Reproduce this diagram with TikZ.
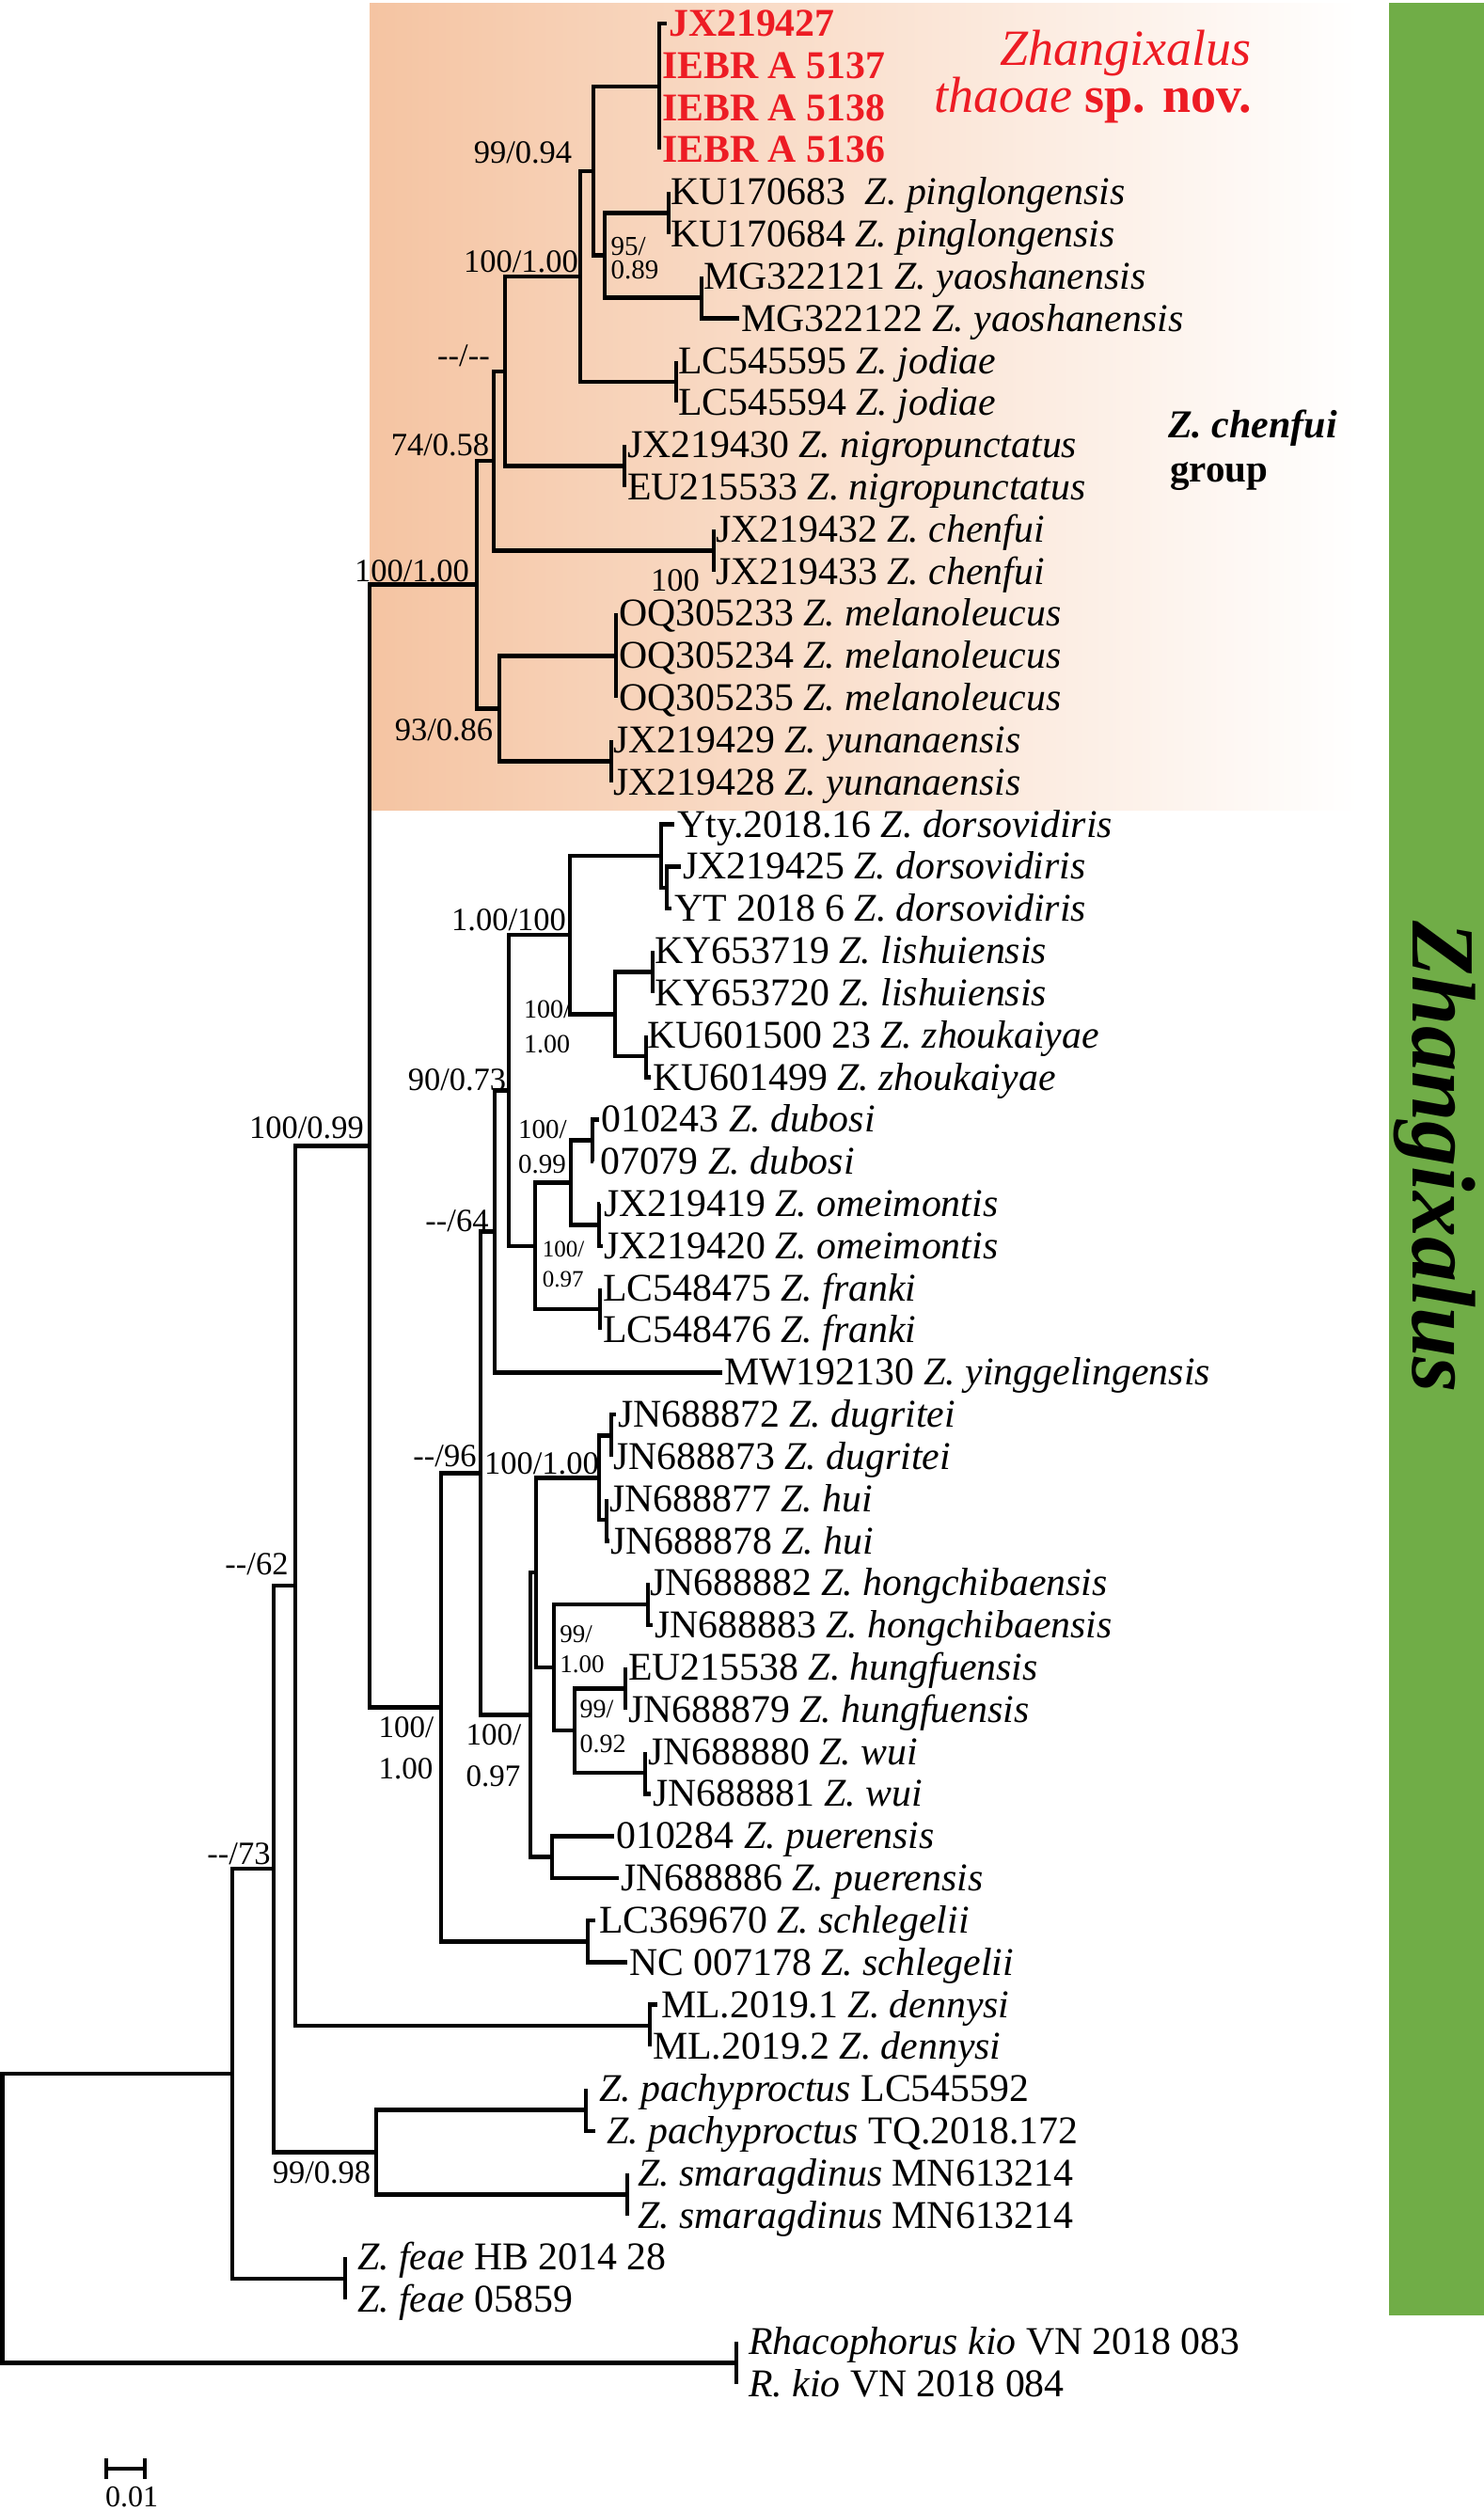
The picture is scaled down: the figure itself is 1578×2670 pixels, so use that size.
\documentclass[tikz,border=0pt]{standalone}
\usepackage{fontspec}
\setmainfont{Liberation Serif}
\definecolor{peach}{RGB}{245,196,162}
\definecolor{zgreen}{RGB}{112,173,71}
\definecolor{zred}{RGB}{237,28,36}
\newcommand\fTip{\fontsize{41.8}{46}\selectfont}
\newcommand\fSup{\fontsize{34.5}{40}\selectfont}
\newcommand\tipl[4]{%
  \coordinate (t#1) at (#2,{rowy(#1)});
  \node[tip] (n#1) at (#3,{rowy(#1)}) {#4};}
\begin{document}
\begin{tikzpicture}[x=1pt,y=-1pt,
  declare function={rowy(\r)=25+44.82*(\r-1);},
  br/.style={line width=4.5pt},
  tip/.style={anchor=base west, inner sep=0pt, yshift=-13.5pt, font=\fTip},
  sup/.style={inner sep=0pt, font=\fSup},
  suptwo/.style={inner sep=0pt, align=left}]
\useasboundingbox (0,0) rectangle (1578,2670);
% backgrounds
\shade[left color=peach, right color=white] (393,4) rectangle (1445,861);
\fill[zgreen] (1477,3) rectangle (1578,2462);
% internal nodes
\coordinate (A) at (701,{rowy(2.5)});
\coordinate (Ppl) at (711,{rowy(5.5)});
\coordinate (Yo) at (746,{rowy(7.5)});
\coordinate (C) at (643,{rowy(6.5)});
\coordinate (P1) at (631,{rowy(4.5)});
\coordinate (J) at (719,{rowy(9.5)});
\coordinate (P2) at (617,{rowy(7)});
\coordinate (Ng) at (664,{rowy(11.5)});
\coordinate (P4) at (537,{rowy(9.25)});
\coordinate (Ch) at (759,{rowy(13.5)});
\coordinate (P5) at (525,{rowy(11.375)});
\coordinate (M) at (655,{rowy(16)});
\coordinate (Yu) at (650,{rowy(18.5)});
\coordinate (P7) at (531,{rowy(17.25)});
\coordinate (P6) at (507,{rowy(14.3125)});
\coordinate (D2) at (709,{rowy(21.5)});
\coordinate (D1) at (703,{rowy(20.75)});
\coordinate (L1) at (694,{rowy(23.5)});
\coordinate (L2) at (687,{rowy(25.5)});
\coordinate (L0) at (654,{rowy(24.5)});
\coordinate (T1) at (606,{rowy(22.625)});
\coordinate (Du) at (630,{rowy(27.5)});
\coordinate (Om) at (637,{rowy(29.5)});
\coordinate (V1) at (607,{rowy(28.5)});
\coordinate (Fr) at (638,{rowy(31.5)});
\coordinate (U1) at (569,{rowy(30)});
\coordinate (R2) at (541,{rowy(26.3125)});
\coordinate (R1) at (526,{rowy(29.656)});
\coordinate (Dg) at (650,{rowy(34.5)});
\coordinate (Hu) at (645,{rowy(36.5)});
\coordinate (G0) at (637,{rowy(35.5)});
\coordinate (Hc) at (689,{rowy(38.5)});
\coordinate (Hf) at (665,{rowy(40.5)});
\coordinate (W) at (686,{rowy(42.5)});
\coordinate (H2) at (611,{rowy(41.5)});
\coordinate (H1) at (589,{rowy(40)});
\coordinate (S2) at (570,{rowy(37.75)});
\coordinate (Pu) at (587,{rowy(44.5)});
\coordinate (S1) at (564,{rowy(41.125)});
\coordinate (Q3) at (511,{rowy(35.39)});
\coordinate (Sc) at (625,{rowy(46.5)});
\coordinate (Q2) at (469,{rowy(40.945)});
\coordinate (NC) at (393,{rowy(27.629)});
\coordinate (De) at (691,{rowy(48.5)});
\coordinate (NB) at (314,{rowy(38.06)});
\coordinate (Pa) at (623,{rowy(50.5)});
\coordinate (Sm) at (667,{rowy(52.5)});
\coordinate (PS) at (400,{rowy(51.5)});
\coordinate (NA) at (291,{rowy(44.78)});
\coordinate (Fe) at (367,{rowy(54.5)});
\coordinate (Nin) at (247,{rowy(49.64)});
\coordinate (Rh) at (783,{rowy(56.5)});
\coordinate (root) at (2.5,{rowy(53.07)});
% tips
\tipl{1}{709}{711}{\textcolor{zred}{\bfseries JX219427}}
\tipl{2}{701}{704}{\textcolor{zred}{\bfseries IEBR A 5137}}
\tipl{3}{701}{704}{\textcolor{zred}{\bfseries IEBR A 5138}}
\tipl{4}{701}{704}{\textcolor{zred}{\bfseries IEBR A 5136}}
\tipl{5}{711}{713}{KU170683\ \ \textit{Z. pinglongensis}}
\tipl{6}{711}{713}{KU170684 \textit{Z. pinglongensis}}
\tipl{7}{746}{748}{MG322121 \textit{Z. yaoshanensis}}
\tipl{8}{786}{788}{MG322122 \textit{Z. yaoshanensis}}
\tipl{9}{719}{721}{LC545595 \textit{Z. jodiae}}
\tipl{10}{719}{721}{LC545594 \textit{Z. jodiae}}
\tipl{11}{664}{667}{JX219430 \textit{Z. nigropunctatus}}
\tipl{12}{664}{667}{EU215533 \textit{Z. nigropunctatus}}
\tipl{13}{759}{761}{JX219432 \textit{Z. chenfui}}
\tipl{14}{759}{761}{JX219433 \textit{Z. chenfui}}
\tipl{15}{655}{658}{OQ305233 \textit{Z. melanoleucus}}
\tipl{16}{655}{658}{OQ305234 \textit{Z. melanoleucus}}
\tipl{17}{655}{658}{OQ305235 \textit{Z. melanoleucus}}
\tipl{18}{650}{652}{JX219429 \textit{Z. yunanaensis}}
\tipl{19}{650}{652}{JX219428 \textit{Z. yunanaensis}}
\tipl{20}{717}{720}{Yty.2018.16 \textit{Z. dorsovidiris}}
\tipl{21}{724}{726}{JX219425 \textit{Z. dorsovidiris}}
\tipl{22}{714}{717}{YT 2018 6 \textit{Z. dorsovidiris}}
\tipl{23}{694}{696}{KY653719 \textit{Z. lishuiensis}}
\tipl{24}{694}{696}{KY653720 \textit{Z. lishuiensis}}
\tipl{25}{687}{688}{KU601500 23 \textit{Z. zhoukaiyae}}
\tipl{26}{692}{694}{KU601499 \textit{Z. zhoukaiyae}}
\tipl{27}{637}{639}{010243 \textit{Z. dubosi}}
\tipl{28}{631}{638}{07079 \textit{Z. dubosi}}
\tipl{29}{638}{642}{JX219419 \textit{Z. omeimontis}}
\tipl{30}{641}{642}{JX219420 \textit{Z. omeimontis}}
\tipl{31}{638}{641}{LC548475 \textit{Z. franki}}
\tipl{32}{638}{641}{LC548476 \textit{Z. franki}}
\tipl{33}{768}{770}{MW192130 \textit{Z. yinggelingensis}}
\tipl{34}{655}{657}{JN688872 \textit{Z. dugritei}}
\tipl{35}{650}{652}{JN688873 \textit{Z. dugritei}}
\tipl{36}{645}{648}{JN688877 \textit{Z. hui}}
\tipl{37}{648}{649}{JN688878 \textit{Z. hui}}
\tipl{38}{689}{691}{JN688882 \textit{Z. hongchibaensis}}
\tipl{39}{694}{696}{JN688883 \textit{Z. hongchibaensis}}
\tipl{40}{665}{668}{EU215538 \textit{Z. hungfuensis}}
\tipl{41}{665}{668}{JN688879 \textit{Z. hungfuensis}}
\tipl{42}{686}{689}{JN688880 \textit{Z. wui}}
\tipl{43}{692}{694}{JN688881 \textit{Z. wui}}
\tipl{44}{653}{655}{010284 \textit{Z. puerensis}}
\tipl{45}{658}{660}{JN688886 \textit{Z. puerensis}}
\tipl{46}{633}{637}{LC369670 \textit{Z. schlegelii}}
\tipl{47}{667}{669}{NC 007178 \textit{Z. schlegelii}}
\tipl{48}{699}{703}{ML.2019.1 \textit{Z. dennysi}}
\tipl{49}{691}{694}{ML.2019.2 \textit{Z. dennysi}}
\tipl{50}{623}{637}{\textit{Z. pachyproctus} LC545592}
\tipl{51}{633}{645}{\textit{Z. pachyproctus} TQ.2018.172}
\tipl{52}{667}{678}{\textit{Z. smaragdinus} MN613214}
\tipl{53}{667}{678}{\textit{Z. smaragdinus} MN613214}
\tipl{54}{367}{380}{\textit{Z. feae} HB 2014 28}
\tipl{55}{367}{380}{\textit{Z. feae} 05859}
\tipl{56}{783}{796}{\textit{Rhacophorus kio} VN 2018 083}
\tipl{57}{783}{796}{\textit{R. kio} VN 2018 084}
% branches
\foreach \p/\c in {root/Nin, root/Rh, Nin/NA, Nin/Fe, NA/NB, NA/PS, PS/Pa, PS/Sm,
  NB/NC, NB/De, NC/P6, NC/Q2, P6/P5, P6/P7, P5/P4, P5/Ch, P4/P2, P4/Ng, P2/P1, P2/J,
  P1/A, P1/C, C/Ppl, C/Yo, P7/M, P7/Yu, Q2/Q3, Q2/Sc, Q3/R1, Q3/S1, R1/R2, R1/t33,
  R2/T1, R2/U1, T1/D1, T1/L0, D1/t20, D1/D2, D2/t21, D2/t22, L0/L1, L0/L2, U1/V1, U1/Fr,
  V1/Du, V1/Om, S1/S2, S1/Pu, S2/G0, S2/H1, G0/Dg, G0/Hu, H1/Hc, H1/H2, H2/Hf, H2/W,
  Pu/t44, Pu/t45, A/t1, A/t2, A/t3, A/t4, Ppl/t5, Ppl/t6, Yo/t7, Yo/t8, J/t9, J/t10,
  Ng/t11, Ng/t12, Ch/t13, Ch/t14, M/t15, M/t16, M/t17, Yu/t18, Yu/t19, L1/t23, L1/t24,
  L2/t25, L2/t26, Du/t27, Du/t28, Om/t29, Om/t30, Fr/t31, Fr/t32, Dg/t34, Dg/t35,
  Hu/t36, Hu/t37, Hc/t38, Hc/t39, Hf/t40, Hf/t41, W/t42, W/t43, Sc/t46, Sc/t47,
  De/t48, De/t49, Pa/t50, Pa/t51, Sm/t52, Sm/t53, Fe/t54, Fe/t55, Rh/t56, Rh/t57}
  \draw[br] (\p) |- (\c);
% support values
\node[sup] (s1) at (556,162) {99/0.94};
\node[sup] (s2) at (554,278) {100/1.00};
\node[suptwo, font=\fontsize{29}{25}\selectfont] (s3) at (675,275) {95/\\0.89};
\node[sup] (s4) at (493,378) {{-}{-}/{-}{-}};
\node[sup] (s5) at (468,473) {74/0.58};
\node[sup] (s6) at (438,607) {100/1.00};
\node[sup] (s7) at (718,617) {100};
\node[sup] (s8) at (472,776) {93/0.86};
\node[sup] (s9) at (326,1199) {100/0.99};
\node[sup] (s10) at (541,978) {1.00/100};
\node[suptwo, font=\fontsize{28}{37}\selectfont] (s11) at (582,1092) {100/\\1.00};
\node[sup] (s12) at (486,1148) {90/0.73};
\node[suptwo, font=\fontsize{29}{37}\selectfont] (s13) at (577,1220) {100/\\0.99};
\node[sup] (s14) at (486,1298) {{-}{-}/64};
\node[suptwo, font=\fontsize{25}{32}\selectfont] (s15) at (599,1344) {100/\\0.97};
\node[sup] (s16) at (473,1548) {{-}{-}/96};
\node[sup] (s17) at (576,1556) {100/1.00};
\node[sup] (s18) at (273,1663) {{-}{-}/62};
\node[suptwo, font=\fontsize{27}{32}\selectfont] (s19) at (619,1754) {99/\\1.00};
\node[suptwo, font=\fontsize{28}{37}\selectfont] (s20) at (641,1836) {99/\\0.92};
\node[suptwo, font=\fontsize{33}{44}\selectfont] (s21) at (432,1859) {100/\\1.00};
\node[suptwo, font=\fontsize{33}{44}\selectfont] (s22) at (525,1867) {100/\\0.97};
\node[sup] (s23) at (254,1971) {{-}{-}/73};
\node[sup] (s24) at (342,2310) {99/0.98};
% annotations
\node[anchor=base east, inner sep=0pt, text=zred, font=\fontsize{54}{60}\selectfont\itshape] (sp1) at (1331,70) {Zhangixalus};
\node[anchor=base east, inner sep=0pt, text=zred, font=\fontsize{54}{60}\selectfont] (sp2) at (1331,120) {\textit{thaoae} \textbf{sp. nov.}};
\node[anchor=base west, inner sep=0pt, font=\fontsize{42}{46}\selectfont\bfseries\itshape] (grp1) at (1242,465) {Z. chenfui};
\node[anchor=base west, inner sep=0pt, font=\fontsize{41}{46}\selectfont\bfseries] (grp2) at (1244,512) {group};
\node[rotate=-90, anchor=base, inner sep=0pt, font=\fontsize{96}{100}\selectfont\bfseries\itshape] (genus) at (1502,1230) {Zhangixalus};
% scale bar
\coordinate (sbL) at (113,2625); \coordinate (sbR) at (154,2625);
\coordinate (sbLt) at (113,2614); \coordinate (sbLb) at (113,2636);
\coordinate (sbRt) at (154,2614); \coordinate (sbRb) at (154,2636);
\draw[br] (sbL) -- (sbR);
\draw[br] (sbLt) -- (sbLb);
\draw[br] (sbRt) -- (sbRb);
\node[inner sep=0pt, font=\fontsize{32}{36}\selectfont] (sblab) at (140,2655) {0.01};
\end{tikzpicture}
\end{document}
